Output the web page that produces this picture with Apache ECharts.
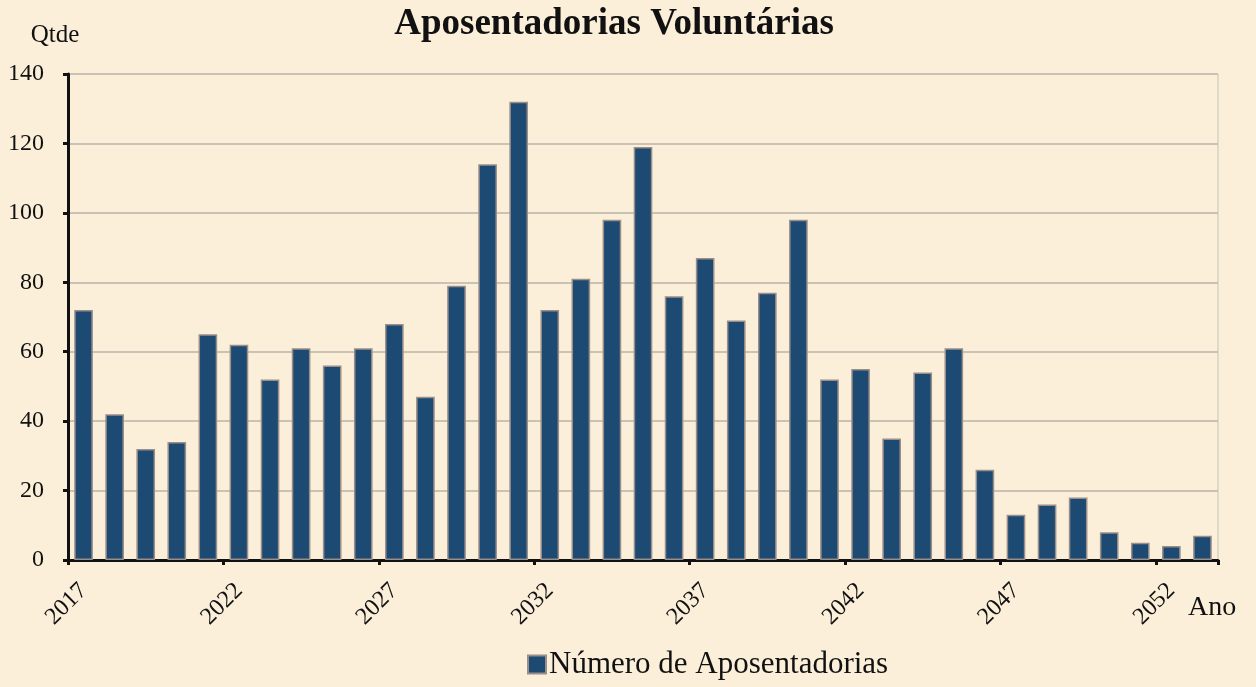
<!DOCTYPE html>
<html>
<head>
<meta charset="utf-8">
<script src="https://cdn.jsdelivr.net/npm/echarts@6/dist/echarts.min.js"></script>
<style>
  html, body { margin: 0; padding: 0; background: #fbefd9; }
  #chart { width: 1256px; height: 687px; }
</style>
</head>
<body>
<div id="chart"></div>
<script>
// anos 2017..2053
var anos = [];
for (var a = 2017; a <= 2053; a++) anos.push(String(a));

var aposentadorias = [72, 42, 32, 34, 65, 62, 52, 61, 56, 61, 68, 47, 79, 114, 132, 72, 81, 98, 119, 76,
  87, 69, 77, 98, 52, 55, 35, 54, 61, 26, 13, 16, 18, 8, 5, 4, 7];

var serif = "'Liberation Serif', 'DejaVu Serif', serif";

var chart = echarts.init(document.getElementById("chart"));

chart.setOption({
  backgroundColor: "#fbefd9",
  animation: false,
  title: {
    text: "Aposentadorias Voluntárias",
    left: 609,
    textAlign: "center",
    top: 1,
    textStyle: { fontFamily: serif, fontSize: 37, fontWeight: "bold", color: "#111" },
  },
  legend: {
    data: ["Número de Aposentadorias"],
    left: 522,
    bottom: 2,
    itemWidth: 18,
    itemHeight: 18,
    itemGap: 4,
    icon: "rect",
    textStyle: { fontFamily: serif, fontSize: 31, color: "#111", padding: [0, 0, 0, -2] },
  },
  grid: { left: 68, right: 38, top: 74, bottom: 127 },
  xAxis: {
    type: "category",
    data: anos,
    axisLine: { show: true, lineStyle: { color: "#111", width: 3 } },
    axisTick: { show: true, interval: 4, length: 5, lineStyle: { color: "#111", width: 3 } },
    axisLabel: {
      interval: 4,
      rotate: 45,
      margin: 27,
      fontFamily: serif,
      fontSize: 24,
      color: "#111",
    },
  },
  yAxis: {
    type: "value",
    min: 0,
    max: 140,
    interval: 20,
    name: "Qtde",
    nameGap: 26,
    nameTextStyle: { fontFamily: serif, fontSize: 25, color: "#111", padding: [0, 26, 0, 0] },
    axisLine: { show: true, lineStyle: { color: "#111", width: 3 } },
    axisTick: { show: true, length: 5, lineStyle: { color: "#111", width: 3 } },
    axisLabel: { fontFamily: serif, fontSize: 24, color: "#111", margin: 24 },
    splitLine: { lineStyle: { color: "#b8b4a8", width: 1.5 } },
  },
  graphic: [
    {
      type: "text",
      left: 1188,
      top: 594,
      style: { text: "Ano", font: "28px " + serif, fill: "#111" },
    },
    {
      type: "line",
      shape: { x1: 1218, y1: 74, x2: 1218, y2: 560 },
      style: { stroke: "#c8c4b8", lineWidth: 1 },
    },
  ],
  series: [
    {
      name: "Número de Aposentadorias",
      type: "bar",
      data: aposentadorias,
      barWidth: "60%",
      itemStyle: { color: "#1c4a72", borderColor: "#9a8e8a", borderWidth: 1.5 },
    },
  ],
});
</script>
</body>
</html>
